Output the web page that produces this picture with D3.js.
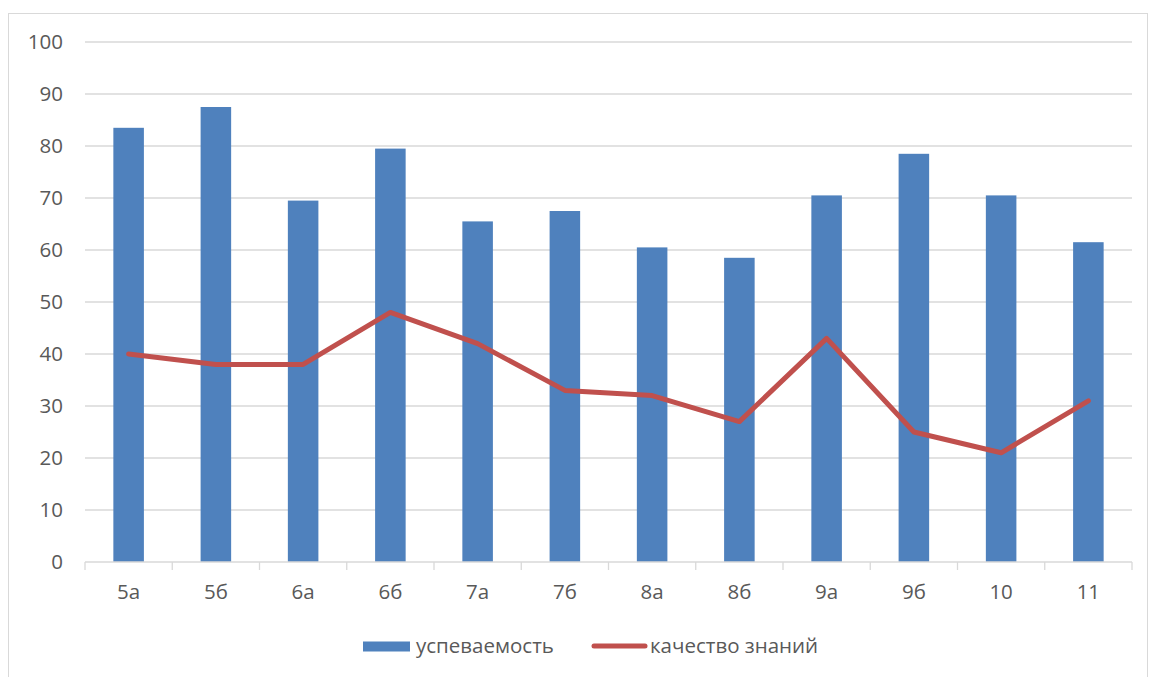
<!DOCTYPE html>
<html>
<head>
<meta charset="utf-8">
<script src="https://d3js.org/d3.v7.min.js"></script>
<style>
  body { margin: 0; background: #fff; }
  text { font-family: "Open Sans", "Noto Sans", sans-serif; fill: #595959; }
</style>
</head>
<body>
<div id="chart"></div>
<script>
const classes = ["5а", "5б", "6а", "6б", "7а", "7б", "8а", "8б", "9а", "9б", "10", "11"];
const uspevaemost = [83.5, 87.5, 69.5, 79.5, 65.5, 67.5, 60.5, 58.5, 70.5, 78.5, 70.5, 61.5];
const kachestvo = [40, 38, 38, 48, 42, 33, 32, 27, 43, 25, 21, 31];
const yTicks = [0, 10, 20, 30, 40, 50, 60, 70, 80, 90, 100];
const seriesNames = ["успеваемость", "качество знаний"];

const width = 1149, height = 677;
const margin = {left: 85, right: 17, top: 42, bottom: 115};
const fs = "20.5px";

const svg = d3.select("#chart").append("svg")
    .attr("width", width)
    .attr("height", height);

// outer chart border
svg.append("rect")
    .attr("x", 8.5).attr("y", 13.5)
    .attr("width", width - 10).attr("height", height)
    .attr("fill", "none")
    .attr("stroke", "#d9d9d9");

const x = d3.scaleBand()
    .domain(classes)
    .range([margin.left, width - margin.right])
    .paddingInner(0.65)
    .paddingOuter(0.325);

const y = d3.scaleLinear()
    .domain([0, 100])
    .range([height - margin.bottom, margin.top]);

// gridlines
svg.append("g")
    .selectAll("line")
    .data(yTicks.filter(d => d > 0))
    .join("line")
    .attr("x1", margin.left)
    .attr("x2", width - margin.right)
    .attr("y1", d => y(d))
    .attr("y2", d => y(d))
    .attr("stroke", "#d9d9d9")
    .attr("stroke-width", 1.3);

// y labels
svg.append("g")
    .selectAll("text")
    .data(yTicks)
    .join("text")
    .attr("x", 63)
    .attr("y", d => y(d))
    .attr("dy", "0.36em")
    .attr("text-anchor", "end")
    .style("font-size", fs)
    .text(d => d);

// bars
svg.append("g")
    .selectAll("rect")
    .data(classes)
    .join("rect")
    .attr("x", d => x(d))
    .attr("width", x.bandwidth())
    .attr("y", (d, i) => y(uspevaemost[i]))
    .attr("height", (d, i) => y(0) - y(uspevaemost[i]))
    .attr("fill", "#4f81bd");

// x axis line + ticks
const step = x.step();
const axisY = y(0);
svg.append("line")
    .attr("x1", margin.left).attr("x2", width - margin.right)
    .attr("y1", axisY).attr("y2", axisY)
    .attr("stroke", "#d9d9d9").attr("stroke-width", 1.3);

const bounds = d3.range(classes.length + 1).map(i => margin.left + i * step);
svg.append("g")
    .selectAll("line")
    .data(bounds)
    .join("line")
    .attr("x1", d => d).attr("x2", d => d)
    .attr("y1", axisY).attr("y2", axisY + 8)
    .attr("stroke", "#d9d9d9").attr("stroke-width", 1.3);

svg.append("g")
    .selectAll("text")
    .data(classes)
    .join("text")
    .attr("x", d => x(d) + x.bandwidth() / 2)
    .attr("y", axisY + 30)
    .attr("dy", "0.36em")
    .attr("text-anchor", "middle")
    .style("font-size", fs)
    .text(d => d);

// line
const line = d3.line()
    .x((d, i) => x(classes[i]) + x.bandwidth() / 2)
    .y(d => y(d));

svg.append("path")
    .datum(kachestvo)
    .attr("d", line)
    .attr("fill", "none")
    .attr("stroke", "#c0504d")
    .attr("stroke-width", 5)
    .attr("stroke-linejoin", "round")
    .attr("stroke-linecap", "round");

// legend
const leg = svg.append("g");
leg.append("rect")
    .attr("x", 363).attr("y", 641.5)
    .attr("width", 47).attr("height", 10)
    .attr("fill", "#4f81bd");
leg.append("text")
    .attr("x", 416).attr("y", 646)
    .attr("dy", "0.36em")
    .style("font-size", fs)
    .text(seriesNames[0]);
leg.append("line")
    .attr("x1", 594).attr("x2", 645)
    .attr("y1", 646).attr("y2", 646)
    .attr("stroke", "#c0504d")
    .attr("stroke-width", 5)
    .attr("stroke-linecap", "round");
leg.append("text")
    .attr("x", 650).attr("y", 646)
    .attr("dy", "0.36em")
    .style("font-size", fs)
    .text(seriesNames[1]);
</script>
</body>
</html>
